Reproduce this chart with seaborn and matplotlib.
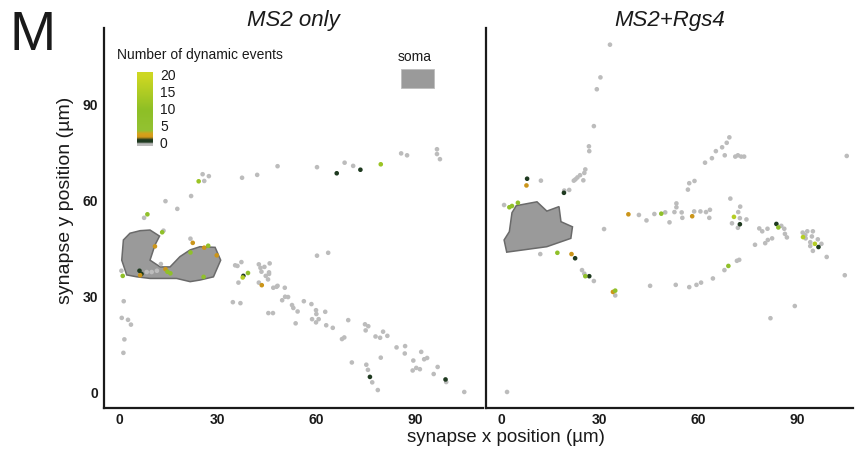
import numpy as np
import pandas as pd
import matplotlib
matplotlib.use("Agg")
import matplotlib.pyplot as plt
import seaborn as sns
from matplotlib.colors import LinearSegmentedColormap, Normalize
from matplotlib.patches import Polygon, Rectangle

# ---------------- data ----------------
panel_titles = ["MS2 only", "MS2+Rgs4"]
axis_ticks = [0, 30, 60, 90]

ms2_x = [48.2, 25.4, 27.3, 24.2, 25.9, 37.4, 42.0, 21.9, 14.1, 17.7, 8.6, 7.6, 13.1, 13.5, 21.7,
         22.4, 10.9, 27.1, 25.9, 21.7, 29.7, 12.7, 6.2, 6.8, 8.4, 9.9, 11.5, 14.1, 14.7, 15.6,
         6.4, 1.1, 0.7, 25.7, 36.0, 35.3, 37.2, 42.5, 44.2, 43.0, 45.8, 43.3, 44.6, 45.6, 45.6,
         37.8, 37.6, 39.2, 45.3, 36.3, 43.4, 47.9, 46.9, 50.4, 42.5, 48.2, 1.4, 0.8, 2.7, 3.6,
         1.6, 1.3, 34.6, 36.9, 45.4, 46.8, 49.6, 50.5, 51.4, 96.7, 96.7, 97.6, 85.8, 87.6, 60.2,
         68.6, 71.2, 66.2, 73.4, 79.6, 60.2, 63.6, 52.6, 53.0, 54.3, 56.2, 58.5, 59.9, 60.0, 60.7,
         58.7, 59.9, 62.7, 53.7, 63.0, 65.0, 69.7, 67.8, 68.5, 74.8, 75.8, 75.0, 80.3, 81.6, 78.0,
         79.4, 84.4, 87.0, 86.9, 91.9, 79.6, 89.5, 92.8, 93.7, 96.9, 90.4, 91.5, 89.3, 95.7, 70.8,
         75.2, 75.7, 76.3, 77.0, 78.7, 99.3, 99.5, 105.0]
ms2_y = [70.6, 68.1, 67.5, 65.9, 66.0, 67.0, 67.9, 61.3, 59.7, 57.3, 55.6, 54.5, 50.0, 50.5, 48.0,
         46.7, 45.6, 45.8, 45.2, 43.7, 42.8, 40.1, 38.0, 37.0, 37.6, 37.6, 38.0, 38.5, 37.7, 37.2,
         36.6, 36.4, 38.0, 36.1, 39.5, 39.7, 40.7, 40.0, 39.2, 38.9, 40.3, 37.7, 36.4, 37.5, 37.0,
         36.4, 35.9, 37.3, 35.3, 34.3, 33.5, 33.0, 32.7, 32.7, 34.3, 33.3, 28.5, 23.3, 22.7, 21.2,
         16.6, 12.4, 28.2, 27.9, 24.8, 24.8, 28.8, 29.9, 29.8, 75.9, 74.4, 72.8, 74.6, 74.0, 70.3,
         71.7, 70.7, 68.4, 69.5, 71.2, 42.7, 43.6, 27.3, 26.4, 25.3, 28.5, 27.6, 25.7, 24.5, 22.9,
         22.9, 21.9, 25.2, 21.6, 21.0, 20.2, 22.6, 16.7, 17.2, 21.3, 20.7, 19.4, 19.0, 17.7, 17.5,
         17.1, 14.1, 14.5, 12.2, 12.7, 10.9, 10.0, 10.4, 10.8, 8.0, 7.7, 7.3, 6.9, 5.8, 9.4,
         8.7, 7.1, 4.9, 3.2, 0.8, 4.1, 3.3, 0.2]
ms2_events = [0, 0, 0, 12, 0, 0, 0, 0, 0, 0, 8, 0, 8, 0, 0,
              2, 2, 8, 2, 8, 2, 0, 1, 1, 0, 0, 0, 2, 8, 8,
              2, 8, 0, 8, 0, 0, 0, 0, 0, 0, 0, 0, 0, 0, 0,
              1, 16, 8, 0, 0, 2, 0, 0, 0, 0, 0, 0, 0, 0, 0,
              0, 0, 0, 0, 0, 0, 0, 0, 0, 0, 0, 0, 0, 0, 0,
              0, 0, 1, 1, 12, 0, 0, 0, 0, 0, 0, 0, 0, 0, 0,
              0, 0, 0, 0, 0, 0, 0, 0, 0, 0, 0, 0, 0, 0, 0,
              0, 0, 0, 0, 0, 0, 0, 0, 0, 0, 0, 0, 0, 0, 0,
              0, 0, 1, 0, 0, 1, 0, 0]

rgs4_x = [33.1, 30.2, 29.1, 28.2, 26.7, 26.8, 25.6, 25.3, 24.0, 23.2, 22.1, 22.6, 25.0, 20.7, 19.2,
          19.1, 12.1, 7.9, 7.7, 0.9, 2.5, 3.3, 5.1, 11.9, 17.1, 21.4, 22.5, 24.6, 25.3, 25.6,
          26.8, 28.2, 31.3, 38.7, 41.9, 44.2, 46.6, 48.7, 49.9, 52.7, 53.3, 53.3, 51.2, 45.3, 53.1,
          34.0, 34.7, 34.7, 1.8, 69.4, 68.6, 67.2, 65.3, 64.1, 62.0, 68.0, 71.2, 72.0, 73.0, 73.9,
          105.1, 57.2, 58.8, 56.8, 54.9, 55.1, 58.1, 58.7, 60.6, 62.3, 63.5, 63.3, 69.7, 72.7, 72.1,
          70.8, 72.6, 74.6, 70.2, 72.6, 72.0, 69.1, 67.9, 71.7, 72.4, 64.4, 60.8, 59.4, 57.2, 83.7,
          84.3, 85.2, 86.1, 86.3, 86.9, 78.5, 79.4, 81.0, 82.4, 81.1, 80.3, 77.2, 91.7, 93.1, 94.8,
          92.5, 92.6, 91.8, 94.5, 96.3, 94.0, 94.0, 95.4, 97.4, 96.5, 94.8, 99.0, 104.5, 89.3, 81.9]
rgs4_y = [108.5, 98.3, 94.6, 83.1, 76.8, 75.3, 69.6, 68.5, 67.8, 67.1, 66.1, 66.5, 66.2, 63.2, 63.0,
          62.3, 66.1, 66.7, 64.6, 58.5, 57.8, 58.2, 59.2, 43.2, 43.6, 43.2, 41.9, 38.2, 37.1, 36.3,
          36.3, 34.8, 51.0, 55.6, 55.4, 53.7, 55.7, 55.8, 56.2, 56.3, 57.8, 59.0, 53.1, 33.3, 33.6,
          31.4, 31.8, 30.3, 0.2, 79.6, 77.9, 76.5, 75.3, 73.1, 71.7, 74.0, 73.6, 74.0, 73.6, 73.6,
          73.8, 65.3, 66.0, 63.3, 56.2, 54.5, 55.0, 56.5, 56.5, 56.3, 57.0, 54.5, 60.5, 58.0, 56.3,
          54.8, 54.4, 54.0, 52.8, 52.5, 51.4, 39.5, 38.2, 41.1, 41.4, 35.6, 34.3, 33.6, 32.9, 52.6,
          51.5, 52.0, 51.1, 49.5, 48.4, 51.2, 50.3, 51.1, 48.1, 47.6, 46.6, 46.1, 49.9, 50.3, 50.3,
          49.1, 48.1, 48.5, 48.7, 47.8, 46.9, 45.7, 46.4, 46.4, 45.4, 44.2, 42.3, 36.6, 27.0, 23.2]
rgs4_events = [0, 0, 0, 0, 0, 0, 0, 0, 0, 0, 0, 0, 0, 0, 0,
               1, 0, 1, 2, 0, 8, 8, 8, 0, 8, 2, 1, 0, 0, 8,
               1, 0, 0, 2, 0, 0, 0, 8, 0, 0, 0, 0, 0, 0, 0,
               2, 8, 0, 0, 0, 0, 0, 0, 0, 0, 0, 0, 0, 0, 0,
               0, 0, 0, 0, 0, 0, 2, 0, 0, 0, 0, 0, 0, 0, 0,
               16, 0, 0, 0, 1, 0, 8, 0, 0, 0, 0, 0, 0, 0, 1,
               8, 0, 0, 0, 0, 0, 0, 0, 0, 0, 0, 0, 0, 0, 0,
               0, 0, 16, 0, 0, 0, 0, 16, 0, 1, 0, 0, 0, 0, 0]

soma_ms2_x = [1.3, 3.3, 6.4, 9.4, 12.3, 10.9, 9.4, 12.5, 15.5, 18.5, 21.6, 24.6, 29.2, 30.9, 28.7,
              24.6, 21.6, 17.5, 14.5, 9.4, 5.4, 2.3, 0.8]
soma_ms2_y = [47.6, 49.7, 50.5, 50.7, 48.8, 46.0, 41.3, 39.2, 39.2, 42.4, 44.5, 45.5, 45.3, 41.3, 36.1,
              35.1, 34.6, 35.6, 35.6, 35.6, 36.1, 36.7, 41.3]
soma_rgs4_x = [4.6, 10.9, 13.9, 17.6, 18.2, 21.7, 21.2, 13.9, 1.7, 0.9, 2.5, 3.3]
soma_rgs4_y = [58.3, 59.5, 56.6, 58.0, 53.3, 51.7, 48.1, 45.5, 43.8, 47.6, 50.2, 56.1]

cbar_ticks = [0, 5, 10, 15, 20]

# ---------------- style ----------------
sns.set_theme(style="white")
plt.rcParams['font.family'] = ['Liberation Sans', 'DejaVu Sans']

cmap = LinearSegmentedColormap.from_list(
    "events",
    [(0.0, "#bcbcbc"), (0.025, "#1f3a20"), (0.06, "#1f3a20"), (0.1, "#d49a1a"),
     (0.15, "#d4a21a"), (0.2, "#93c232"), (0.5, "#8ebf26"), (1.0, "#cdd722")])
norm = Normalize(0, 20)

W, H = 855, 455
fig = plt.figure(figsize=(W / 100, H / 100), dpi=100)

def fbox(x0, y0, x1, y1):
    return [x0 / W, 1 - y1 / H, (x1 - x0) / W, (y1 - y0) / H]

ax1 = fig.add_axes(fbox(104, 28, 483, 408))
ax2 = fig.add_axes(fbox(486, 28, 853, 408))

panels = [
    (ax1, ms2_x, ms2_y, ms2_events, soma_ms2_x, soma_ms2_y, 110.7),
    (ax2, rgs4_x, rgs4_y, rgs4_events, soma_rgs4_x, soma_rgs4_y, 107.0),
]

for i, (ax, xs, ys, ev, sx, sy, xmax) in enumerate(panels):
    poly = Polygon(np.column_stack([sx, sy]), closed=True, facecolor="#9a9a9a",
                   edgecolor="#6a6a6a", linewidth=1.1, zorder=1)
    ax.add_patch(poly)
    df = pd.DataFrame({"x": xs, "y": ys, "events": ev}).sort_values("events", kind="stable")
    sns.scatterplot(data=df, x="x", y="y", hue="events", palette=cmap, hue_norm=norm,
                    s=11, linewidth=0, legend=False, ax=ax, zorder=2)
    ax.set_xlim(-4.6, xmax)
    ax.set_ylim(-4.8, 113.7)
    ax.set_xticks(axis_ticks)
    ax.set_yticks(axis_ticks)
    ax.set_xlabel("")
    ax.set_ylabel("")
    for side in ["top", "right"]:
        ax.spines[side].set_visible(False)
    for side in ["left", "bottom"]:
        ax.spines[side].set_color("#1a1a1a")
        ax.spines[side].set_linewidth(1.6)
    ax.tick_params(axis="both", length=2.5, width=0.8, color="#333333", pad=1,
                   labelsize=10, labelcolor="#1a1a1a")
    ax.tick_params(axis="y", pad=2)
    for lab in ax.get_xticklabels() + ax.get_yticklabels():
        lab.set_fontweight("bold")
    ax.set_title(panel_titles[i], fontsize=16, fontstyle="italic", color="#1a1a1a", pad=1.5)
    ax.set_facecolor("white")
    ax.grid(False)

ax2.tick_params(axis="y", length=0, labelleft=False)

fig.text(506 / W, 1 - 438 / H, "synapse x position (\u00b5m)", ha="center", va="center",
         fontsize=13.5, color="#1a1a1a")
fig.text(66 / W, 1 - 200 / H, "synapse y position (\u00b5m)", ha="center", va="center",
         rotation=90, fontsize=14, color="#1a1a1a")
fig.text(10 / W, 1 - 50 / H, "M", ha="left", va="baseline", fontsize=40, color="#1a1a1a")

# legend: colorbar
fig.text(117 / W, 1 - 55 / H, "Number of dynamic events", ha="left", va="center",
         fontsize=10, color="#1a1a1a")
cax = fig.add_axes(fbox(137, 72, 153, 146))
grad = np.linspace(-0.6, 21.2, 300).reshape(-1, 1)
cax.imshow(grad, aspect="auto", cmap=cmap, norm=norm, origin="lower",
           extent=[0, 1, -0.6, 21.2])
cax.set_ylim(-0.6, 21.2)
cax.set_xticks([])
cax.set_yticks([])
for sp in cax.spines.values():
    sp.set_visible(False)
for t in cbar_ticks:
    fig.text(160 / W, 1 - (144 - t * 3.4) / H, str(t), ha="left", va="center",
             fontsize=10, color="#1a1a1a")

# legend: soma
fig.text(398 / W, 1 - 57 / H, "soma", ha="left", va="center", fontsize=10, color="#1a1a1a")
fig.patches.append(Rectangle((401 / W, 1 - 88 / H), 33 / W, 19 / H, transform=fig.transFigure,
                             facecolor="#9a9a9a", edgecolor="#bdbdbd", linewidth=0.6))

fig.savefig("out.png", dpi=100, facecolor="white")
